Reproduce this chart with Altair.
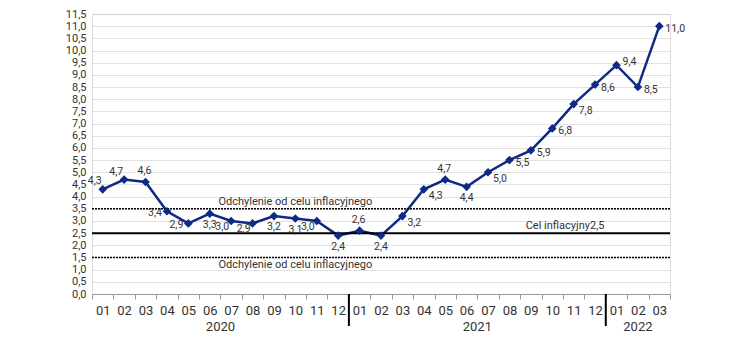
import json
import altair as alt
import pandas as pd

# ---- data ----
months = ["01", "02", "03", "04", "05", "06", "07", "08", "09", "10", "11", "12",
          "01", "02", "03", "04", "05", "06", "07", "08", "09", "10", "11", "12",
          "01", "02", "03"]
years = ["2020"] * 12 + ["2021"] * 12 + ["2022"] * 3
values = [4.3, 4.7, 4.6, 3.4, 2.9, 3.3, 3.0, 2.9, 3.2, 3.1, 3.0, 2.4,
          2.6, 2.4, 3.2, 4.3, 4.7, 4.4, 5.0, 5.5, 5.9, 6.8, 7.8, 8.6,
          9.4, 8.5, 11.0]
# where each value label sits relative to its marker
placement = ["upleft", "upleft", "above", "left", "left", "below", "lowleft", "lowleft",
             "below", "below", "lowleft", "below",
             "above", "below", "lowright", "lowright", "above", "below", "lowright",
             "right", "right", "right", "lowright", "right",
             "upright", "right", "right"]
year_names = ["2020", "2021", "2022"]
target = 2.5
band_low, band_high = 1.5, 3.5
band_text = "Odchylenie od celu inflacyjnego"
target_text = "Cel inflacyjny2,5"

FONT = "Roboto"
NAVY = "#0f2a85"
TXT = "#333333"

df = pd.DataFrame({
    "i": list(range(len(values))),
    "month": months,
    "year": years,
    "v": values,
    "pl": placement,
})

W, H = 578, 280
xscale = alt.Scale(domain=[-0.5, len(values) - 0.5], nice=False, zero=False)
yscale = alt.Scale(domain=[0, 11.5], nice=False, zero=True)

tick_vals = [k - 0.5 for k in range(len(values) + 1)]
months_js = json.dumps(months)

x_axis = alt.Axis(
    values=tick_vals, title=None, grid=False,
    labelExpr=f"({months_js})[round(datum.value + 0.5)] || ''",
    labelOffset=W / len(values) / 2, labelOverlap=False, labelFlush=False,
    labelFont=FONT, labelFontSize=13, labelColor=TXT, labelPadding=5,
    tickSize=5, tickColor="#999999", domainColor="#999999", domainWidth=1,
)
y_axis = alt.Axis(
    values=[k * 0.5 for k in range(24)], title=None,
    labelExpr="replace(format(datum.value, '.1f'), '.', ',')",
    labelOverlap=False, labelFlush=False,
    labelFont=FONT, labelFontSize=11, labelColor=TXT, labelPadding=6,
    ticks=False, domain=False,
    grid=True, gridColor="#c4c4c4", gridDash=[1, 1], gridWidth=1,
)


def X(field):
    return alt.X(field, type="quantitative", scale=xscale, axis=x_axis)


def Y(field):
    return alt.Y(field, type="quantitative", scale=yscale, axis=y_axis)


base = alt.Chart(df)

line = base.mark_line(color=NAVY, strokeWidth=2.5).encode(x=X("i"), y=Y("v"))
pts = base.mark_point(shape="diamond", filled=True, size=75, color=NAVY, opacity=1).encode(
    x=X("i"), y=Y("v")
)

# reference lines
ref_df = pd.DataFrame({"y": [band_low, band_high]})
dotted = alt.Chart(ref_df).mark_rule(color="black", strokeDash=[2, 1], strokeWidth=1.5).encode(
    y=Y("y")
)
solid = alt.Chart(pd.DataFrame({"y": [target]})).mark_rule(color="black", strokeWidth=2).encode(
    y=Y("y")
)

# value labels
offsets = {
    "upleft": dict(align="right", dx=-1, dy=-8),
    "above": dict(align="center", dx=-1, dy=-11),
    "left": dict(align="right", dx=-5, dy=2),
    "below": dict(align="center", dx=0, dy=11),
    "lowleft": dict(align="right", dx=-2, dy=6),
    "lowright": dict(align="left", dx=5, dy=7),
    "right": dict(align="left", dx=6, dy=3),
    "upright": dict(align="left", dx=6, dy=-3),
}
label_layers = []
for name, o in offsets.items():
    label_layers.append(
        base.transform_filter(alt.datum.pl == name)
        .transform_calculate(lab="replace(format(datum.v, '.1f'), '.', ',')")
        .mark_text(font=FONT, fontSize=10.5, color=TXT, baseline="middle", **o)
        .encode(x=X("i"), y=Y("v"), text="lab:N")
    )

# annotations
ann_df = pd.DataFrame({
    "x": [9, 9, 21.6],
    "y": [band_high, band_low, target],
    "t": [band_text, band_text, target_text],
    "side": ["up", "down", "up"],
})
ann_up = alt.Chart(ann_df).transform_filter(alt.datum.side == "up").mark_text(
    font=FONT, fontSize=11, color=TXT, baseline="bottom", dy=-2
).encode(x=X("x"), y=Y("y"), text="t:N")
ann_down = alt.Chart(ann_df).transform_filter(alt.datum.side == "down").mark_text(
    font=FONT, fontSize=11, color=TXT, baseline="top", dy=2
).encode(x=X("x"), y=Y("y"), text="t:N")

# year labels and separators
yr = df.groupby("year", as_index=False).agg(lo=("i", "min"), hi=("i", "max"))
yr["mid"] = (yr["lo"] + yr["hi"]) / 2
year_text = alt.Chart(yr).mark_text(
    font=FONT, fontSize=13, color=TXT, baseline="middle"
).encode(x=X("mid"), y=alt.value(H + 33), text="year:N")

sep = yr[yr["year"] != year_names[-1]].copy()
sep["b"] = sep["hi"] + 0.5
seps = alt.Chart(sep).mark_rule(color="black", strokeWidth=2).encode(
    x=X("b"), y=alt.value(H), y2=alt.value(H + 32)
)

chart = alt.layer(
    line, dotted, solid, ann_up, ann_down, pts, *label_layers, year_text, seps
).properties(
    width=W, height=H,
    autosize=alt.AutoSizeParams(type="none"),
    padding={"left": 92, "top": 14, "right": 80, "bottom": 60},
).configure_view(strokeWidth=0).configure(background="white")

chart.save("out.html", embed_options={"renderer": "svg", "actions": False})
